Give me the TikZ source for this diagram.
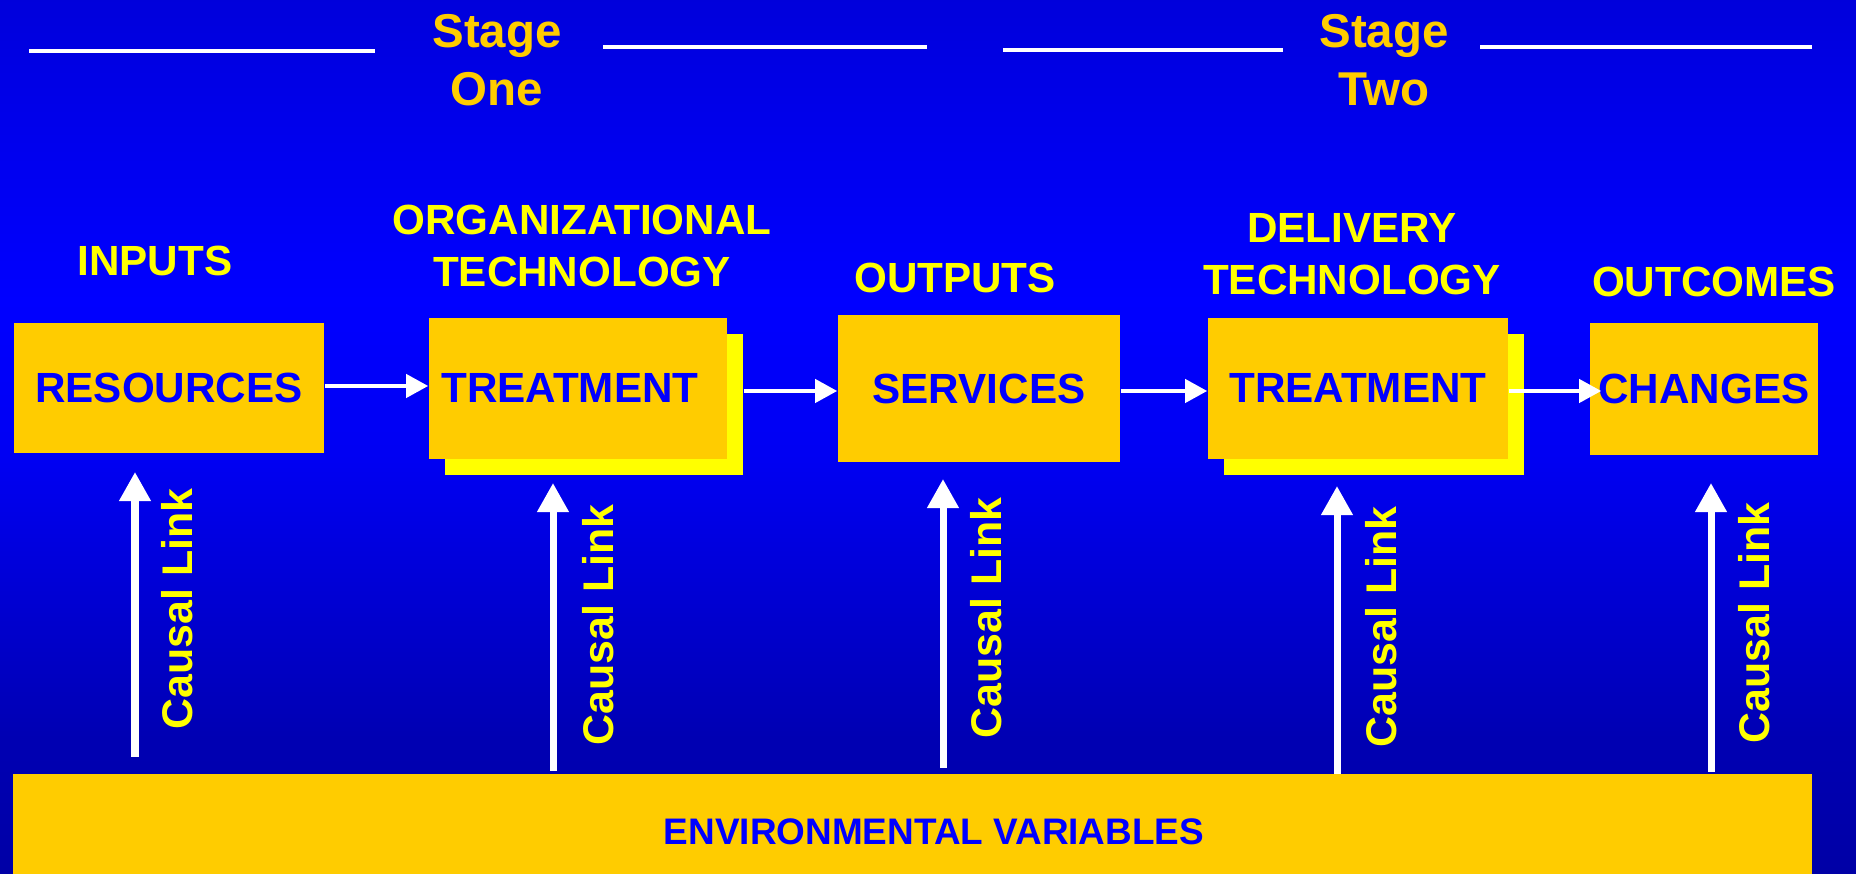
\documentclass[tikz,border=0pt]{standalone}
\usepackage{fontspec}
\setmainfont{Liberation Sans}
\usetikzlibrary{arrows.meta,shadows}
\definecolor{boxgold}{HTML}{FFCC00}
\definecolor{shadowyellow}{HTML}{FFFF00}
\definecolor{labelyellow}{HTML}{FFFF00}
\definecolor{textblue}{HTML}{0000FF}
\pgfdeclareverticalshading{bgblue}{100bp}{rgb(0bp)=(0,0,0.65); rgb(25bp)=(0,0,0.65); rgb(32.7bp)=(0,0,0.70); rgb(48.7bp)=(0,0,0.95); rgb(57.8bp)=(0,0,1); rgb(67bp)=(0,0,0.93); rgb(75bp)=(0,0,0.86); rgb(100bp)=(0,0,0.86)}

\begin{document}
\begin{tikzpicture}[x=0.01cm,y=-0.01cm,
  box/.style={rectangle,fill=boxgold,text=textblue,font=\fontsize{12}{14}\selectfont\bfseries,inner sep=0pt},
  shadowbox/.style={box,general shadow={fill=shadowyellow,shadow xshift=0.16cm,shadow yshift=-0.16cm}},
  envtext/.style={text=textblue,font=\fontsize{10.5}{12}\selectfont\bfseries,inner sep=0pt},
  heading/.style={text=labelyellow,font=\fontsize{12}{14.8}\selectfont\bfseries,align=center,inner sep=0pt},
  stage/.style={text=boxgold,font=\fontsize{13.5}{16.5}\selectfont\bfseries,align=center,inner sep=0pt},
  linklabel/.style={text=labelyellow,font=\fontsize{12.2}{14}\selectfont\bfseries,rotate=90,inner sep=0pt},
  flow/.style={draw=white,line width=0.04cm,-{Triangle[width=0.23cm,length=0.22cm]}},
  causal/.style={draw=white,line width=0.07cm,-{Triangle[width=0.30cm,length=0.29cm]}},
  rule/.style={draw=white,line width=0.04cm}]
\useasboundingbox (0,0) rectangle (1856,874);
\shade[shading=bgblue] (0,0) rectangle (1856,874);

% stage headers
\draw[rule] (29,51) -- (375,51);
\draw[rule] (603,47) -- (927,47);
\path (497,60) node[stage] (stage1) {Stage\\One};
\draw[rule] (1003,50) -- (1283,50);
\draw[rule] (1480,47) -- (1812,47);
\path (1384,60) node[stage] (stage2) {Stage\\Two};

% column headings
\path (155,261) node[heading] (inputs) {INPUTS};
\path (582,246) node[heading] (orgtech) {ORGANIZATIONAL\\TECHNOLOGY};
\path (955,278) node[heading] (outputs) {OUTPUTS};
\path (1352,254) node[heading] (deltech) {DELIVERY\\TECHNOLOGY};
\path (1714,282) node[heading] (outcomes) {OUTCOMES};

% boxes
\path (169,388) node[box,minimum width=3.10cm,minimum height=1.30cm] (res) {RESOURCES};
\path (578,388.5) node[shadowbox,minimum width=2.98cm,minimum height=1.41cm] (treat1) {TREATMENT\hspace*{0.16cm}};
\path (979,388.5) node[box,minimum width=2.82cm,minimum height=1.47cm] (serv) {SERVICES};
\path (1358,388.5) node[shadowbox,minimum width=3.00cm,minimum height=1.41cm] (treat2) {TREATMENT};
\path (1704,389) node[box,minimum width=2.28cm,minimum height=1.32cm] (chg) {CHANGES};

\draw[flow] ([yshift=0.02cm]res.east) -- ([yshift=0.02cm]res.east -| treat1.west);
\draw[flow,shorten <=0.16cm] ([yshift=-0.025cm]treat1.east) -- ([yshift=-0.025cm]treat1.east -| serv.west);
\draw[flow] ([yshift=-0.025cm]serv.east) -- ([yshift=-0.025cm]serv.east -| treat2.west);
\draw[flow,shorten >=-0.12cm] ([yshift=-0.025cm]treat2.east) -- ([yshift=-0.025cm]treat2.east -| chg.west);

% environment bar
\path (912.5,827) node[box,minimum width=17.97cm,minimum height=1.06cm] (env) {};
\path (934,832) node[envtext] (envlabel) {ENVIRONMENTAL VARIABLES};

% causal links
\coordinate (foot1) at (135,757); \coordinate (tip1) at (135,472);
\coordinate (foot2) at (553,771); \coordinate (tip2) at (553,483);
\coordinate (foot3) at (943,768); \coordinate (tip3) at (943,479);
\coordinate (foot4) at (1337,774); \coordinate (tip4) at (1337,486);
\coordinate (foot5) at (1711,772); \coordinate (tip5) at (1711,483);
\draw[causal] (foot1) -- (tip1);
\path (177,609) node[linklabel] (link1) {Causal Link};
\draw[causal] (foot2) -- (tip2);
\path (598,625) node[linklabel] (link2) {Causal Link};
\draw[causal] (foot3) -- (tip3);
\path (986,618) node[linklabel] (link3) {Causal Link};
\draw[causal] (foot4) -- (tip4);
\path (1381,627) node[linklabel] (link4) {Causal Link};
\draw[causal] (foot5) -- (tip5);
\path (1754,623) node[linklabel] (link5) {Causal Link};
\end{tikzpicture}
\end{document}
